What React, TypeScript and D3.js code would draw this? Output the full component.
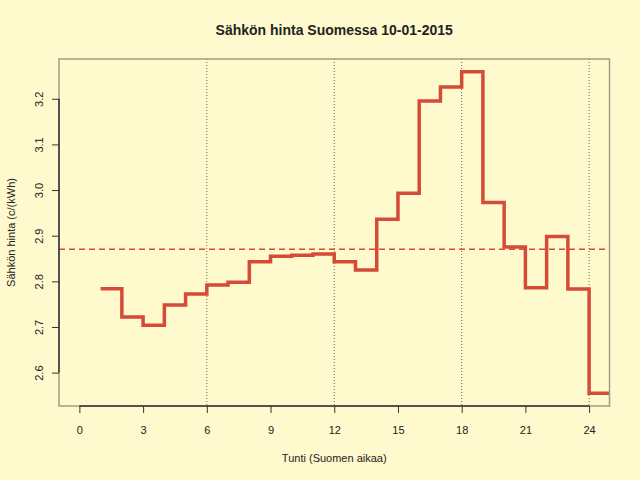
import { useRef, useEffect } from "react";
import * as d3 from "d3";

// Tuntihinnat c/kWh, tunnit 1..24
const hours = [1, 2, 3, 4, 5, 6, 7, 8, 9, 10, 11, 12, 13, 14, 15, 16, 17, 18, 19, 20, 21, 22, 23, 24];
const prices = [
  2.784, 2.722, 2.704, 2.748, 2.772, 2.792, 2.798, 2.843, 2.855, 2.857, 2.86, 2.843,
  2.825, 2.936, 2.993, 3.195, 3.226, 3.259, 2.973, 2.875, 2.786, 2.898, 2.783, 2.555,
];
const xTicks = [0, 3, 6, 9, 12, 15, 18, 21, 24];
const yTicks = [2.6, 2.7, 2.8, 2.9, 3.0, 3.1, 3.2];
const gridHours = [6, 12, 18, 24];

const W = 640;
const H = 480;
const BG = "#FFFACD";
const RED = "#D54B37";
const FONT = "'Liberation Sans', Arial, sans-serif";

export default function App() {
  const svgRef = useRef<SVGSVGElement>(null);

  useEffect(() => {
    if (!svgRef.current) return;
    const svg = d3.select(svgRef.current);
    svg.selectAll("*").remove();

    const left = 59, right = 609.5, top = 59, bottom = 406;

    // R-tyylinen 4 % laajennus
    const xScale = d3.scaleLinear().domain([-0.96, 24.96]).range([left, right]);
    const [pmin, pmax] = d3.extent(prices) as [number, number];
    const pad = (pmax - pmin) * 0.04;
    const yScale = d3.scaleLinear().domain([pmin - pad, pmax + pad]).range([bottom, top]);

    svg.append("rect").attr("width", W).attr("height", H).attr("fill", BG);

    svg.append("defs")
      .append("clipPath")
      .attr("id", "plot-clip")
      .append("rect")
      .attr("x", left)
      .attr("y", top)
      .attr("width", right - left)
      .attr("height", bottom - top);

    // Pystysuorat apuviivat
    svg.append("g")
      .selectAll("line")
      .data(gridHours)
      .join("line")
      .attr("x1", (d) => xScale(d))
      .attr("x2", (d) => xScale(d))
      .attr("y1", top)
      .attr("y2", bottom)
      .attr("stroke", "#666")
      .attr("stroke-width", 1)
      .attr("stroke-dasharray", "1,2");

    // Keskiarvo
    const mean = d3.mean(prices) ?? 0;
    svg.append("line")
      .attr("x1", left)
      .attr("x2", right)
      .attr("y1", yScale(mean))
      .attr("y2", yScale(mean))
      .attr("stroke", RED)
      .attr("stroke-width", 1.5)
      .attr("stroke-dasharray", "6,4");

    // Porrasviiva
    const pts: [number, number][] = hours.map((h, i) => [h, prices[i]]);
    pts.push([hours[hours.length - 1] + 1, prices[prices.length - 1]]);
    const line = d3
      .line<[number, number]>()
      .x((d) => xScale(d[0]))
      .y((d) => yScale(d[1]))
      .curve(d3.curveStepAfter);
    svg.append("path")
      .attr("d", line(pts))
      .attr("fill", "none")
      .attr("stroke", RED)
      .attr("stroke-width", 3.5)
      .attr("stroke-linejoin", "miter")
      .attr("clip-path", "url(#plot-clip)");

    // Laatikko
    svg.append("rect")
      .attr("x", left)
      .attr("y", top)
      .attr("width", right - left)
      .attr("height", bottom - top)
      .attr("fill", "none")
      .attr("stroke", "#A39C86")
      .attr("stroke-width", 1.5);

    // X-akseli
    svg.append("g")
      .attr("transform", `translate(0,${bottom})`)
      .call(d3.axisBottom(xScale).tickValues(xTicks).tickSize(7).tickPadding(13).tickFormat(d3.format("d")))
      .call((axis) => {
        axis.select(".domain")
          .attr("d", `M${xScale(xTicks[0])},0H${xScale(xTicks[xTicks.length - 1])}`)
          .attr("stroke", "#333")
          .attr("stroke-width", 1.5);
        axis.selectAll(".tick line").attr("stroke", "#333");
        axis.selectAll(".tick text")
          .attr("fill", "#222")
          .attr("font-size", 11)
          .attr("font-family", FONT);
      });

    // Y-akseli
    svg.append("g")
      .attr("transform", `translate(${left},0)`)
      .call(d3.axisLeft(yScale).tickValues(yTicks).tickSize(7).tickFormat(d3.format(".1f")))
      .call((axis) => {
        axis.select(".domain")
          .attr("d", `M0,${yScale(yTicks[0])}V${yScale(yTicks[yTicks.length - 1])}`)
          .attr("stroke", "#333")
          .attr("stroke-width", 1.5);
        axis.selectAll(".tick line").attr("stroke", "#333");
        axis.selectAll(".tick text")
          .attr("fill", "#222")
          .attr("font-size", 11)
          .attr("font-family", FONT)
          .attr("text-anchor", "middle")
          .attr("dy", null)
          .attr("x", null)
          .attr("transform", "translate(-20,0) rotate(-90)")
          .attr("dominant-baseline", "central");
      });

    // Otsikot
    svg.append("text")
      .attr("x", (left + right) / 2)
      .attr("y", 35)
      .attr("text-anchor", "middle")
      .attr("font-family", FONT)
      .attr("font-weight", "bold")
      .attr("font-size", 14)
      .attr("fill", "#222")
      .text("Sähkön hinta Suomessa 10-01-2015");

    svg.append("text")
      .attr("x", (left + right) / 2)
      .attr("y", 462)
      .attr("text-anchor", "middle")
      .attr("font-family", FONT)
      .attr("font-size", 11)
      .attr("fill", "#222")
      .text("Tunti (Suomen aikaa)");

    svg.append("text")
      .attr("transform", `translate(15,${(top + bottom) / 2}) rotate(-90)`)
      .attr("text-anchor", "middle")
      .attr("font-family", FONT)
      .attr("font-size", 11)
      .attr("fill", "#222")
      .text("Sähkön hinta (c/(kWh)");
  }, []);

  return (
    <svg
      ref={svgRef}
      width={W}
      height={H}
      style={{ display: "block", position: "absolute", left: 0, top: 0 }}
    />
  );
}
